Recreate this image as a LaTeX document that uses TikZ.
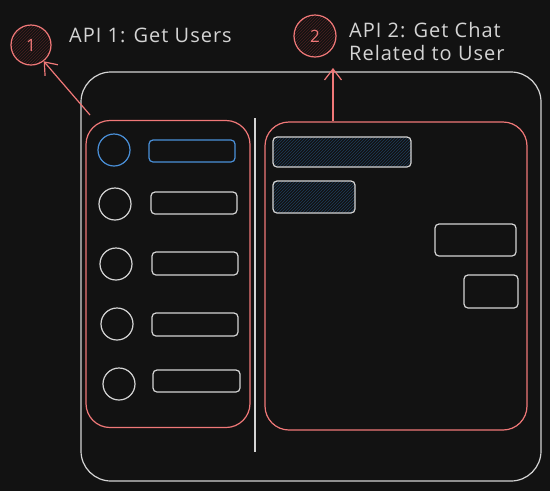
\documentclass[tikz,border=0pt]{standalone}
\usepackage{fontspec}
\setmainfont{Open Sans}
\usetikzlibrary{patterns,arrows.meta}
\definecolor{bg}{HTML}{121212}
\definecolor{wht}{HTML}{D4D4D4}
\definecolor{rd}{HTML}{F07878}
\definecolor{bl}{HTML}{4A90D9}
\definecolor{hb}{HTML}{1E3D5C}
\definecolor{hr}{HTML}{4A2020}
\tikzset{
  wline/.style={draw=wht, line width=1.2pt},
  panel/.style={draw=rd, line width=1.2pt, rounded corners=24pt},
  avatar/.style={draw=wht, line width=1.2pt, circle, minimum size=32pt, inner sep=0pt},
  bar/.style={draw=wht, line width=1.2pt, rounded corners=4pt, rectangle, inner sep=0pt},
  hatched/.style={bar, pattern=north east lines, pattern color=hb},
  badge/.style={draw=rd, line width=1.2pt, circle, minimum size=40pt, inner sep=0pt, pattern=north east lines, pattern color=hr, text=rd, font=\fontsize{17}{17}\selectfont},
  lbl/.style={text=wht, font=\fontsize{20}{23}\selectfont\addfontfeature{LetterSpace=5}, inner sep=0pt, anchor=base west, align=left},
  arr/.style={draw=rd, line width=1.2pt, -{Straight Barb[length=11pt,width=17pt]}}
}
\begin{document}
\begin{tikzpicture}[x=1pt,y=-1pt]
\fill[bg] (0,0) rectangle (550,491);
\useasboundingbox (0,0) rectangle (550,491);
% outer frame
\draw[wline, rounded corners=30pt] (81,72) rectangle (541,481);
\draw[wline] (255,118) -- (255,452);
% panels
\node[panel, minimum width=164pt, minimum height=307pt, inner sep=0pt] (lp) at (168,274) {};
\node[panel, minimum width=262pt, minimum height=308pt, inner sep=0pt] (rp) at (396,276) {};
% left list
\node[avatar, draw=bl] (c1) at (114,150) {};
\node[avatar] (c2) at (115,204) {};
\node[avatar] (c3) at (116,264) {};
\node[avatar] (c4) at (117,324) {};
\node[avatar] (c5) at (119,384) {};
\node[bar, draw=bl, minimum width=86pt, minimum height=22pt] (b1) at (192,151) {};
\node[bar, minimum width=86pt, minimum height=22pt] (b2) at (194,203) {};
\node[bar, minimum width=86pt, minimum height=23pt] (b3) at (195,263.5) {};
\node[bar, minimum width=86pt, minimum height=23pt] (b4) at (195,324.5) {};
\node[bar, minimum width=87pt, minimum height=22pt] (b5) at (196.5,381) {};
% right chat
\node[hatched, minimum width=138pt, minimum height=30pt] (m1) at (342,152) {};
\node[hatched, minimum width=82pt, minimum height=32pt] (m2) at (314,197) {};
\node[bar, minimum width=81pt, minimum height=32pt] (m3) at (475.5,240) {};
\node[bar, minimum width=54pt, minimum height=33pt] (m4) at (491,291.5) {};
% badges
\node[badge] (n1) at (31,45) {1};
\node[badge, minimum size=42pt] (n2) at (315,36) {2};
\node[lbl] (t1) at (69,42) {API 1: Get Users};
\node[lbl, anchor=north west] (t2) at (349,22) {API 2: Get Chat\\Related to User};
% arrows
\coordinate (a1) at (90,115);
\coordinate (a2) at (333,121);
\draw[arr] (a1) -- (n1.-52);
\draw[arr] (a2) -- (333,68);
\end{tikzpicture}
\end{document}
